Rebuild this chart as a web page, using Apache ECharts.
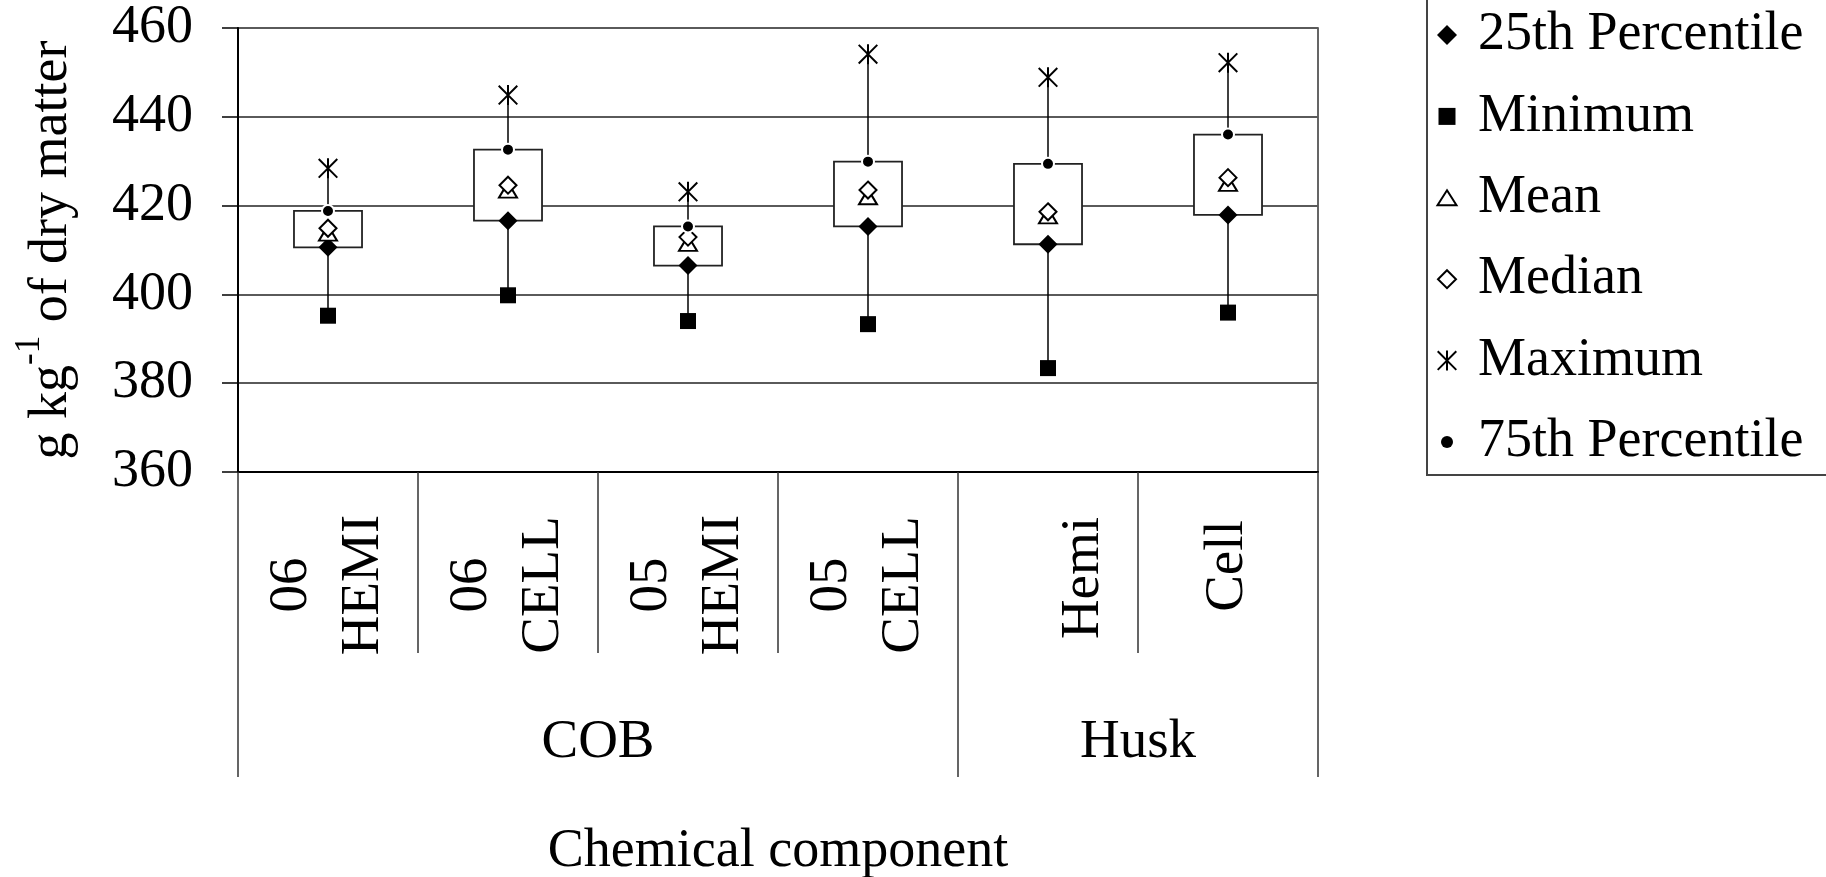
<!DOCTYPE html>
<html>
<head>
<meta charset="utf-8">
<script src="https://cdn.jsdelivr.net/npm/echarts@6/dist/echarts.min.js"></script>
<style>
  html, body { margin: 0; padding: 0; background: #fff; }
  #chart { width: 1826px; height: 877px; }
</style>
</head>
<body>
<div id="chart"></div>
<script>
// Chemical components (two-line labels; Husk Hemi keeps an empty first line)
const categories = ['06\nHEMI', '06\nCELL', '05\nHEMI', '05\nCELL', '\nHemi', 'Cell'];
const groups = ['COB', 'Husk'];
const groupSpans = [4, 2];

// Summary statistics, g kg-1 of dry matter
const p25     = [410.6, 416.6, 406.5, 415.3, 411.3, 417.9];
const minimum = [395.2, 399.8, 394.0, 393.3, 383.4, 395.9];
const mean    = [413.8, 423.5, 411.5, 422.0, 417.7, 425.0];
const median  = [414.9, 424.6, 412.9, 423.5, 418.6, 426.3];
const maximum = [428.4, 444.9, 423.1, 454.1, 448.9, 452.2];
const p75     = [418.8, 432.6, 415.3, 429.9, 429.4, 436.0];

const yMin = 360, yMax = 460, yStep = 20;

const FONT = "'Liberation Serif', 'Times New Roman', serif";

// Group boundaries and centres on a 0..N scale
const groupEdges = [0];
groupSpans.forEach(s => groupEdges.push(groupEdges[groupEdges.length - 1] + s));
const groupCenters = groupSpans.map((s, i) => groupEdges[i] + s / 2);

// rich-text style used by each category label (husk labels sit a little closer to the axis)
const labelStyleNames = ['c', 'c', 'c', 'c', 'h', 'k'];

const ASTERISK = 'path://M0,7L7,0L100,93L93,100Z M93,0L100,7L7,100L0,93Z M45,0L55,0L55,100L45,100Z';

function pointSeries(name, values, symbol, size, style) {
  return {
    name: name,
    type: 'scatter',
    data: values,
    symbol: symbol,
    symbolSize: size,
    itemStyle: Object.assign({ opacity: 1 }, style),
    z: 3,
    silent: true,
    emphasis: { disabled: true }
  };
}

const chart = echarts.init(document.getElementById('chart'), null, { renderer: 'canvas' });

const catText = { fontFamily: FONT, fontSize: 55, lineHeight: 72, align: 'center', color: '#000' };

chart.setOption({
  animation: false,
  backgroundColor: '#fff',
  grid: {
    left: 238, top: 28, width: 1080, height: 444,
    show: true, borderColor: '#333', borderWidth: 1.5,
    containLabel: false, outerBoundsMode: 'none'
  },
  legend: {
    orient: 'vertical',
    left: 1427, top: -27,
    padding: [35, 40, 6, 9],
    itemWidth: 52, itemHeight: 20, itemGap: 27.4,
    borderColor: '#444', borderWidth: 2,
    selectedMode: false,
    textStyle: { fontFamily: FONT, fontSize: 54, color: '#000', lineHeight: 54 },
    data: [
      { name: '25th Percentile', icon: 'path://M10,0L20,10L10,20L0,10Z' },
      { name: 'Minimum', icon: 'path://M0,0M20,20M1.5,1.5L18.5,1.5L18.5,18.5L1.5,18.5Z' },
      { name: 'Mean', icon: 'path://M0,0M20,20M10,2.5L19.5,17.5L0.5,17.5Z' },
      { name: 'Median', icon: 'path://M0,0M20,20M10,1L19,10L10,19L1,10Z' },
      { name: 'Maximum', icon: 'path://M0,1.5M100,98.5M0,7L7,0L100,93L93,100Z M93,0L100,7L7,100L0,93Z M45,0L55,0L55,100L45,100Z' },
      { name: '75th Percentile', icon: 'path://M0,0M20,20M4,10A6,6,0,1,1,16,10A6,6,0,1,1,4,10Z', itemStyle: { borderWidth: 0 } }
    ]
  },
  xAxis: [
    {
      type: 'category',
      data: categories,
      position: 'bottom',
      boundaryGap: true,
      axisLine: { show: true, lineStyle: { color: '#000', width: 2 } },
      axisTick: { show: true, interval: 0, length: 181, lineStyle: { color: '#333', width: 1.5 } },
      axisLabel: {
        interval: 0,
        rotate: 90,
        margin: 38,
        formatter: (v, i) => {
          const st = labelStyleNames[i] || 'c';
          return v.split('\n').map(s => '{' + st + '|' + (s || ' ') + '}').join('\n');
        },
        rich: {
          c: Object.assign({ width: 150 }, catText),
          h: Object.assign({ width: 136 }, catText),
          k: Object.assign({ width: 112 }, catText)
        }
      },
      splitLine: { show: false }
    },
    {
      type: 'value',
      position: 'bottom',
      min: 0,
      max: groupEdges[groupEdges.length - 1],
      axisLine: { show: false },
      axisTick: { show: true, customValues: groupEdges, length: 305, lineStyle: { color: '#333', width: 1.5 } },
      axisLabel: {
        customValues: groupCenters,
        margin: 271,
        verticalAlign: 'middle',
        fontFamily: FONT, fontSize: 55, color: '#000',
        formatter: v => groups[groupCenters.indexOf(v)] || ''
      },
      splitLine: { show: false },
      name: 'Chemical component',
      nameLocation: 'middle',
      nameGap: 380,
      nameTextStyle: { fontFamily: FONT, fontSize: 54, color: '#000', verticalAlign: 'middle' }
    }
  ],
  yAxis: {
    type: 'value',
    min: yMin, max: yMax, interval: yStep,
    axisLine: { show: true, lineStyle: { color: '#000', width: 2 } },
    axisTick: { show: true, length: 16, lineStyle: { color: '#000', width: 1.5 } },
    axisLabel: { margin: 45, fontFamily: FONT, fontSize: 54, color: '#000' },
    splitLine: { show: true, lineStyle: { color: '#5a5a5a', width: 2 } },
    name: '{a|g kg}{s|-1}{a| of dry matter}',
    nameLocation: 'middle',
    nameGap: 186,
    nameTextStyle: {
      verticalAlign: 'middle',
      rich: {
        a: { fontFamily: FONT, fontSize: 54, lineHeight: 80, verticalAlign: 'middle', color: '#000' },
        s: { fontFamily: FONT, fontSize: 35, lineHeight: 30, verticalAlign: 'top', color: '#000' }
      }
    }
  },
  series: [
    {
      // whisker from minimum to maximum, box from 25th to 75th percentile
      type: 'custom',
      name: 'range',
      data: categories.map((c, i) => [i, minimum[i], p25[i], p75[i], maximum[i]]),
      encode: { x: 0, y: [1, 2, 3, 4] },
      z: 2,
      silent: true,
      renderItem: function (params, api) {
        const i = api.value(0);
        const lo = api.coord([i, api.value(1)]);
        const q1 = api.coord([i, api.value(2)]);
        const q3 = api.coord([i, api.value(3)]);
        const hi = api.coord([i, api.value(4)]);
        const w = api.size([1, 0])[0] * 0.378;
        return {
          type: 'group',
          children: [
            { type: 'line', shape: { x1: lo[0], y1: lo[1], x2: hi[0], y2: hi[1] },
              style: { stroke: '#000', lineWidth: 1.5 } },
            { type: 'rect', shape: { x: q1[0] - w / 2, y: q3[1], width: w, height: q1[1] - q3[1] },
              style: { fill: '#fff', stroke: '#222', lineWidth: 1.8 } }
          ]
        };
      }
    },
    pointSeries('25th Percentile', p25, 'diamond', 19, { color: '#000' }),
    pointSeries('Minimum', minimum, 'rect', 16, { color: '#000' }),
    pointSeries('Mean', mean, 'triangle', [18, 15], { color: '#fff', borderColor: '#000', borderWidth: 2 }),
    pointSeries('Median', median, 'diamond', 17, { color: '#fff', borderColor: '#000', borderWidth: 2 }),
    pointSeries('Maximum', maximum, ASTERISK, [20, 20], { color: '#000' }),
    pointSeries('75th Percentile', p75, 'circle', 12, { color: '#000', borderColor: '#fff', borderWidth: 2 })
  ]
});
</script>
</body>
</html>
